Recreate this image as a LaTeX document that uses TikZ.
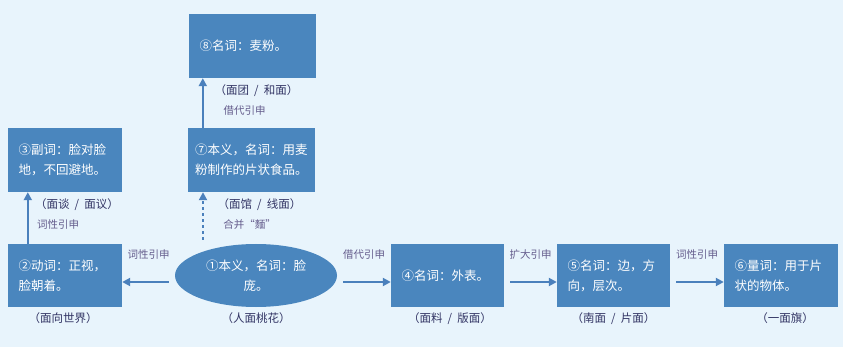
\documentclass[tikz,border=0pt]{standalone}
\usepackage{fontspec}
\setmainfont{Noto Sans CJK SC}
\usetikzlibrary{arrows.meta, positioning, shapes.geometric}
\definecolor{bgblue}{RGB}{232, 244, 252}
\definecolor{boxblue}{RGB}{74, 134, 190}
\definecolor{arrblue}{RGB}{74, 128, 188}
\definecolor{lblnavy}{RGB}{50, 52, 100}
\definecolor{lblgray}{RGB}{100, 92, 140}
\newcommand{\num}[1]{\makebox[1em][c]{#1}}
\newcommand{\sep}{\hspace{0.45em}/\hspace{0.45em}}

\begin{document}
\begin{tikzpicture}[x=1pt,y=-1pt,
          box/.style={fill=boxblue,text=white,minimum height=63pt,
                      inner xsep=10.5pt,inner ysep=0pt,align=left,
                      font=\fontsize{12.5}{20}\selectfont},
          oval/.style={ellipse,fill=boxblue,text=white,minimum width=162pt,
                      minimum height=63pt,inner sep=0pt,align=center,
                      font=\fontsize{12.5}{20}\selectfont},
          usage/.style={text=lblnavy,inner sep=1pt,font=\fontsize{11.5}{13}\selectfont},
          sense/.style={text=lblgray,inner sep=1pt,font=\fontsize{10.5}{12}\selectfont},
          arr/.style={draw=arrblue,line width=2.5pt,-{Triangle[length=8pt,width=8pt]}}]
        \fill[bgblue](0,0) rectangle (843,347);
        \node[box,text width=106pt,minimum height=64pt](b8) at (252.5,46){\num{⑧}名词：麦粉。};
        \node[box,text width=113pt,inner xsep=7pt,minimum height=64pt](b7) at (251.5,160){
          \num{⑦}本义，名词：用麦\\粉制作的片状食品。};
        \node[box,text width=93pt,minimum height=64pt](b3) at (65,160){
          \num{③}副词：脸对脸\\地，不回避地。};
        \node[box,text width=93pt](b2) at (65,275.5){\num{②}动词：正视，\\脸朝着。};
        \node[oval](e1) at (256,275.5){\num{①}本义，名词：脸\\庞。};
        \node[box,text width=92pt](b4) at (447.5,275.5){\num{④}名词：外表。};
        \node[box,text width=92pt](b5) at (613.5,275.5){\num{⑤}名词：边，方\\向，层次。};
        \node[box,text width=93pt](b6) at (781,275.5){\num{⑥}量词：用于片\\状的物体。};

        \node[usage,below=5pt of b8,xshift=4pt](u8){（面团\sep 和面）};
        \node[sense,below=7pt of u8,xshift=-12pt](s8){借代引申};
        \node[usage,below=5pt of b7,xshift=8pt](u7){（面馆\sep 线面）};
        \node[sense,below=7pt of u7,xshift=-10pt](s7){合并“麵”};
        \node[usage,below=5pt of b3,xshift=12pt](u3){（面谈\sep 面议）};
        \node[sense,below=7pt of u3,xshift=-19pt](s3){词性引申};
        \node[usage,below=4pt of b2,xshift=-2pt](u2){（面向世界）};
        \node[usage,below=4pt of e1](u1){（人面桃花）};
        \node[usage,below=4pt of b4,xshift=2.5pt](u4){（面料\sep 版面）};
        \node[usage,below=4pt of b5](u5){（南面\sep 片面）};
        \node[usage,below=4pt of b6,xshift=4pt](u6){（一面旗）};

        \draw[arr,shorten <=6pt]([yshift=-6.5pt]e1.west) --
          node[sense,above=20pt]{词性引申} ([yshift=-6.5pt]b2.east);
        \draw[arr,shorten <=6pt]([yshift=-6.5pt]e1.east) --
          node[sense,above=20pt]{借代引申} ([yshift=-6.5pt]b4.west);
        \draw[arr,shorten <=6pt]([yshift=-6.5pt]b4.east) --
          node[sense,above=20pt]{扩大引申} ([yshift=-6.5pt]b5.west);
        \draw[arr,shorten <=6pt]([yshift=-6.5pt]b5.east) --
          node[sense,above=20pt]{词性引申} ([yshift=-6.5pt]b6.west);
        \draw[arr]([xshift=20pt]b2.north west) -- ([xshift=20pt]b3.south west);
        \coordinate (d1) at (203,240);
        \draw[arr,dash pattern=on 3pt off 3pt](d1) -- (d1 |- b7.south);
        \draw[arr]([xshift=15pt]b7.north west) -- ([xshift=14pt]b8.south west);
      \end{tikzpicture}
\end{document}
